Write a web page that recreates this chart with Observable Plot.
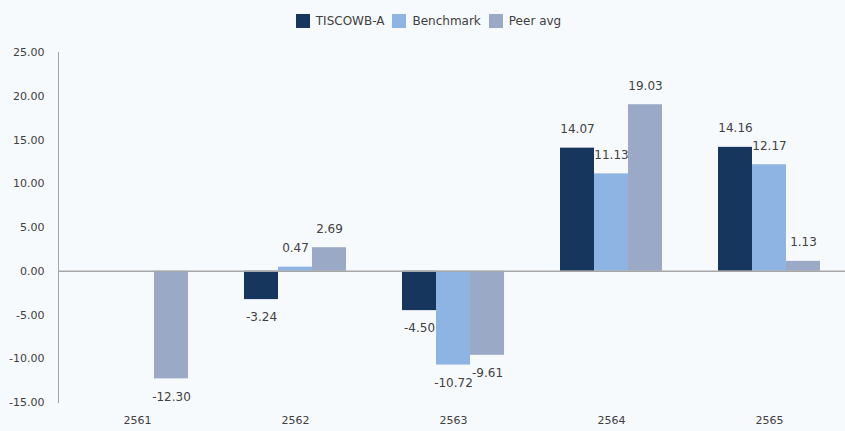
<!DOCTYPE html>
<html>
<head>
<meta charset="utf-8">
<script src="https://cdn.jsdelivr.net/npm/d3@7"></script>
<script src="https://cdn.jsdelivr.net/npm/@observablehq/plot@0.6"></script>
<style>
  html, body { margin: 0; padding: 0; background: #f7fafd; }
  body { width: 845px; height: 431px; overflow: hidden; font-family: "DejaVu Sans", sans-serif; }
  #legend { height: 28px; display: flex; justify-content: center; align-items: flex-end; gap: 6px; font-size: 12px; color: #404040; padding-left: 14px; box-sizing: border-box; }
  #legend .item { display: flex; align-items: center; gap: 6px; margin-right: 2px; line-height: 14px; }
  #legend .sw { width: 14px; height: 14px; display: inline-block; }
</style>
</head>
<body>
<div id="legend"></div>
<div id="chart"></div>
<script>
const years = ["2561", "2562", "2563", "2564", "2565"];
const seriesNames = ["TISCOWB-A", "Benchmark", "Peer avg"];
const tiscoValues = [null, -3.24, -4.50, 14.07, 14.16];
const benchmarkValues = [null, 0.47, -10.72, 11.13, 12.17];
const peerValues = [-12.30, 2.69, -9.61, 19.03, 1.13];
const colors = ["#17365d", "#8db4e2", "#9aaac6"];
const yTicks = [-15, -10, -5, 0, 5, 10, 15, 20, 25];

const valuesBySeries = [tiscoValues, benchmarkValues, peerValues];
const data = [];
years.forEach((y, i) => {
  seriesNames.forEach((s, j) => {
    const v = valuesBySeries[j][i];
    if (v != null) data.push({year: y, series: s, value: v});
  });
});

// Legend
const legend = document.getElementById("legend");
seriesNames.forEach((s, j) => {
  const item = document.createElement("span");
  item.className = "item";
  const sw = document.createElement("span");
  sw.className = "sw";
  sw.style.background = colors[j];
  const t = document.createElement("span");
  t.textContent = s;
  item.appendChild(sw);
  item.appendChild(t);
  legend.appendChild(item);
});

const locale = d3.formatLocale({decimal: ".", thousands: ",", grouping: [3], currency: ["", ""], minus: "-"});
const fmt = locale.format(".2f");

const chart = Plot.plot({
  width: 845,
  height: 403,
  marginLeft: 57,
  marginRight: -4,
  marginTop: 24,
  marginBottom: 29,
  style: {background: "transparent", fontFamily: "DejaVu Sans, sans-serif", fontSize: "11px", color: "#595959"},
  fx: {domain: years, padding: 0, label: null},
  x: {domain: seriesNames, paddingInner: 0, paddingOuter: 0.764, axis: null},
  y: {domain: [-15, 25], label: null},
  color: {domain: seriesNames, range: colors},
  marks: [
    Plot.frame({anchor: "left", facetAnchor: "left", stroke: "#a6a6a6"}),
    Plot.axisY({ticks: yTicks, tickFormat: fmt, tickSize: 0, tickPadding: 14, label: null, fill: "#404040"}),
    Plot.axisFx({anchor: "bottom", tickSize: 0, tickPadding: 14, label: null, fill: "#404040"}),
    Plot.barY(data, {fx: "year", x: "series", y: "value", fill: "series", inset: 0}),
    Plot.ruleY([0], {stroke: "#a6a6a6", strokeWidth: 1.5}),
    Plot.text(data.filter(d => d.value >= 0), {fx: "year", x: "series", y: "value", text: d => fmt(d.value), dy: -19, fill: "#404040", fontSize: 12}),
    Plot.text(data.filter(d => d.value < 0), {fx: "year", x: "series", y: "value", text: d => fmt(d.value), dy: 18, fill: "#404040", fontSize: 12})
  ]
});
document.getElementById("chart").appendChild(chart);
</script>
</body>
</html>
